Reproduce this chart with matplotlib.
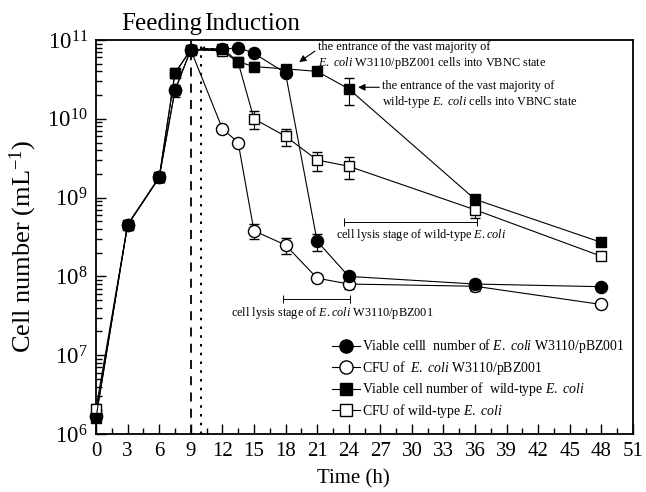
import matplotlib
matplotlib.use("Agg")
import matplotlib.pyplot as plt
from matplotlib.ticker import MultipleLocator, LogLocator, NullFormatter
from matplotlib.lines import Line2D

plt.rcParams['font.family'] = ['Liberation Serif', 'DejaVu Serif']
plt.rcParams['mathtext.fontset'] = 'custom'
plt.rcParams['mathtext.rm'] = 'Liberation Serif'
plt.rcParams['mathtext.it'] = 'Liberation Serif:italic'
plt.rcParams['mathtext.bf'] = 'Liberation Serif:bold'

# ---- data ----
time_h = [0, 3, 6, 7.5, 9, 12, 13.5, 15, 18, 21, 24, 36, 48]
viable_w3110 = [1.7e6, 4.5e8, 1.8e9, 2.3e10, 7.5e10, 7.6e10, 8.0e10, 6.8e10, 3.8e10, 2.8e8, 1.0e8, 8.0e7, 7.4e7]
viable_w3110_err = [0, 0.5e8, 0.2e9, 0.3e10, 0.8e10, 0, 0, 0, 0, 0.7e8, 1.0e7, 1.0e7, 0]
cfu_w3110 = [1.7e6, 4.5e8, 1.8e9, 2.3e10, 7.5e10, 7.5e9, 5.0e9, 3.8e8, 2.5e8, 9.5e7, 8.0e7, 7.5e7, 4.4e7]
cfu_w3110_err = [0, 0.5e8, 0.2e9, 0.4e10, 0.8e10, 0, 0, 0.8e8, 0.6e8, 1.0e7, 1.0e7, 1.0e7, 0.3e7]
viable_wt = [1.6e6, 4.5e8, 1.8e9, 3.8e10, 7.5e10, 7.8e10, 5.3e10, 4.6e10, 4.3e10, 4.0e10, 2.4e10, 9.5e8, 2.7e8]
viable_wt_err = [0, 0.5e8, 0.2e9, 0.4e10, 0.8e10, 0, 0, 0.6e10, 0, 0, 0.9e10, 1.0e8, 0.3e8]
cfu_wt = [2.1e6, 4.5e8, 1.8e9, 3.8e10, 7.5e10, 7.3e10, 5.2e10, 1.0e10, 6.0e9, 3.0e9, 2.5e9, 7.0e8, 1.8e8]
cfu_wt_err = [0.3e6, 0.5e8, 0.2e9, 0.5e10, 0.8e10, 0.5e10, 0, 0.25e10, 0.15e10, 0.8e9, 0.8e9, 1.5e8, 0.2e7]

labels = [r"Viable celll  number of $\mathit{E.\ coli}$ W3110/pBZ001",
          r"CFU of  $\mathit{E.\ coli}$ W3110/pBZ001",
          r"Viable cell number of  wild-type $\mathit{E.\ coli}$",
          r"CFU of wild-type $\mathit{E.\ coli}$"]

feeding_t = 9
induction_t = 10

# ---- figure ----
fig = plt.figure(figsize=(6.46, 4.92), dpi=100)
ax = fig.add_axes([96/646, 1-434/492, (633-96)/646, (434-40)/492])
ax.set_yscale('log')
ax.set_xlim(0, 51)
ax.set_ylim(1e6, 1e11)

lw = 0.8
series = [
    (cfu_w3110, cfu_w3110_err, 'o', 'white', 8.7),
    (viable_w3110, viable_w3110_err, 'o', 'black', 8.7),
    (cfu_wt, cfu_wt_err, 's', 'white', 7.7),
    (viable_wt, viable_wt_err, 's', 'black', 7.7),
]
for vals, err, mk, fc, ms in series:
    eb = ax.errorbar(time_h, vals, yerr=err, fmt='-', color='black', lw=lw,
                     marker=mk, mfc=fc, mec='black', mew=1.0, ms=ms,
                     ecolor='black', elinewidth=0.8, capsize=3.5, capthick=0.8,
                     clip_on=False, zorder=3)
    for art in eb.lines[1] + eb.lines[0:1]:
        if art is not None:
            art.set_clip_on(False)

ax.axvline(feeding_t, color='black', ls=(0, (5, 4)), lw=1.3, zorder=2)
ax.axvline(induction_t, color='black', ls=(0, (1.2, 3)), lw=1.5, zorder=2)

trans = matplotlib.transforms.blended_transform_factory(ax.transData, ax.transAxes)
ax.text(10.1, 1.025, "Feeding", transform=trans, ha='right', va='baseline', fontsize=18)
ax.text(10.3, 1.025, "Induction", transform=trans, ha='left', va='baseline', fontsize=18)

# small arrow near induction
ax.annotate("", xy=(9.9, 7.8e10), xytext=(11.2, 7.8e10),
            arrowprops=dict(arrowstyle='-|>', lw=0.7, ls='--', color='black',
                            mutation_scale=6, shrinkA=0, shrinkB=0))

# annotations
ax.annotate("", xy=(19.3, 10**10.72), xytext=(20.8, 10**10.86),
            arrowprops=dict(arrowstyle='-|>', lw=0.8, color='black',
                            mutation_scale=10, shrinkA=0, shrinkB=0))
ax.text(21.1, 10**10.80, "the entrance of the vast majority of\n"
        r"$\mathit{E.\ coli}$ W3110/pBZ001 cells into VBNC state",
        ha='left', va='center', fontsize=8.8, linespacing=1.2)

ax.annotate("", xy=(24.9, 10**10.40), xytext=(26.9, 10**10.40),
            arrowprops=dict(arrowstyle='-|>', lw=0.8, color='black',
                            mutation_scale=10, shrinkA=0, shrinkB=0))
ax.text(27.2, 10**10.30, "the entrance of the vast majority of\n"
        r"wild-type $\mathit{E.\ coli}$ cells into VBNC state",
        ha='left', va='center', fontsize=8.8, linespacing=1.2)

# lysis stage bars
ax.errorbar([(23.6 + 36.2) / 2], [10**8.69], xerr=[(36.2 - 23.6) / 2], fmt='none',
            ecolor='black', elinewidth=0.7, capsize=3, capthick=0.7)
ax.text(22.8, 10**8.53, r"cell lysis stage of wild-type $\mathit{E.coli}$",
        ha='left', va='center', fontsize=8.8)
ax.errorbar([(17.8 + 24.1) / 2], [10**7.71], xerr=[(24.1 - 17.8) / 2], fmt='none',
            ecolor='black', elinewidth=0.7, capsize=3, capthick=0.7)
ax.text(22.4, 10**7.54, r"cell lysis stage of $\mathit{E.coli}$ W3110/pBZ001",
        ha='center', va='center', fontsize=8.8)

# legend
handles = [
    Line2D([], [], color='black', lw=lw, marker='o', mfc='black', mec='black', ms=9.5),
    Line2D([], [], color='black', lw=lw, marker='o', mfc='white', mec='black', ms=9.5),
    Line2D([], [], color='black', lw=lw, marker='s', mfc='black', mec='black', ms=8.5),
    Line2D([], [], color='black', lw=lw, marker='s', mfc='white', mec='black', ms=8.5),
]
ax.legend(handles, labels, loc='upper left', bbox_to_anchor=(0.44, 0.245),
          frameon=False, fontsize=9.9, handlelength=2.0, handletextpad=0.15,
          labelspacing=0.25, borderaxespad=0, borderpad=0)

# ticks
ax.xaxis.set_major_locator(MultipleLocator(3))
ax.xaxis.set_minor_locator(MultipleLocator(1.5))
ax.yaxis.set_major_locator(LogLocator(base=10, numticks=10))
ax.yaxis.set_minor_locator(LogLocator(base=10, subs=range(2, 10), numticks=20))
ax.yaxis.set_minor_formatter(NullFormatter())
ax.tick_params(axis='x', which='major', direction='in', length=7, width=1.0,
               labelsize=15, pad=6, top=False)
ax.tick_params(axis='x', which='minor', direction='in', length=4, width=1.0, top=False)
ax.tick_params(axis='y', which='major', direction='in', length=7, width=1.0,
               labelsize=16.5, pad=6, right=False)
ax.tick_params(axis='y', which='minor', direction='in', length=4, width=1.0, right=False)
for s in ax.spines.values():
    s.set_linewidth(1.3)

ax.set_xlabel("Time (h)", fontsize=15, labelpad=4)
ax.xaxis.set_label_coords(0.48, -0.09)
ax.set_ylabel(r"Cell number (mL$^{\mathdefault{-1}}$)", fontsize=19, labelpad=4)
ax.yaxis.set_label_coords(-0.107, 0.475)

fig.savefig("out.png", dpi=100)
